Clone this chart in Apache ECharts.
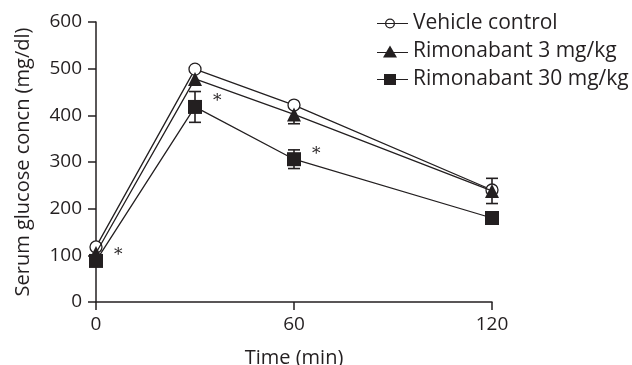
<!DOCTYPE html>
<html>
<head>
<meta charset="utf-8">
<script src="https://cdn.jsdelivr.net/npm/echarts@6/dist/echarts.min.js"></script>
<style>html,body{margin:0;padding:0;background:#fff}#c{width:632px;height:365px}</style>
</head>
<body>
<div id="c"></div>
<script>
var timePoints = [0, 30, 60, 120];
var xTicks = [0, 60, 120];
var yTicks = [0, 100, 200, 300, 400, 500, 600];
var seriesNames = ['Vehicle control', 'Rimonabant 3 mg/kg', 'Rimonabant 30 mg/kg'];
var vehicle = [118, 499, 422, 240];
var rim3 = [105, 478, 402, 238];
var rim30 = [88, 418, 306, 180];
var vehicleErr = [0, 0, 0, 0];
var rim3Err = [0, 0, 20, 27];
var rim30Err = [0, 33, 20, 0];
var rim30Sig = [true, true, true, false];

var FONT = 'Open Sans';
var INK = '#231f20';
var FS = 19;
var NFS = 20;

var legendIcons = [
  'path://M8,6A5,5 0 1,1 18,6A5,5 0 1,1 8,6ZM9.3,6A3.7,3.7 0 1,0 16.7,6A3.7,3.7 0 1,0 9.3,6ZM0,5.4H31V6.6H0Z',
  'path://M13,0L20,12H6ZM0,0H0.01V0.01H0ZM0,6.4H31V7.6H0Z',
  'path://M7,0.5H19V11.5H7ZM0,5.4H31V6.6H0Z'
];

function pairs(vals) { return timePoints.map(function (t, i) { return [t, vals[i]]; }); }
function errData(vals, errs) {
  var out = [];
  timePoints.forEach(function (t, i) { if (errs[i] > 0) out.push([t, vals[i] - errs[i], vals[i] + errs[i]]); });
  return out;
}
function errSeries(vals, errs, z) {
  return {
    type: 'custom', z: z, silent: true,
    data: errData(vals, errs),
    renderItem: function (params, api) {
      var lo = api.coord([api.value(0), api.value(1)]);
      var hi = api.coord([api.value(0), api.value(2)]);
      var w = 6;
      var st = { stroke: INK, lineWidth: 1.6 };
      return { type: 'group', children: [
        { type: 'line', shape: { x1: lo[0], y1: lo[1], x2: hi[0], y2: hi[1] }, style: st },
        { type: 'line', shape: { x1: lo[0] - w, y1: lo[1], x2: lo[0] + w, y2: lo[1] }, style: st },
        { type: 'line', shape: { x1: hi[0] - w, y1: hi[1], x2: hi[0] + w, y2: hi[1] }, style: st }
      ] };
    }
  };
}

var chart = echarts.init(document.getElementById('c'), null, { renderer: 'canvas' });
var lineStyle = { color: INK, width: 1.3 };
chart.setOption({
  animation: false,
  textStyle: { fontFamily: FONT, color: INK },
  grid: { left: 96, right: 140, top: 22, bottom: 63, containLabel: false, outerBoundsMode: 'none' },
  legend: {
    left: 377, top: 13, orient: 'vertical', itemGap: 7, padding: 0,
    itemWidth: 31, itemHeight: 12, symbolKeepAspect: true,
    textStyle: { fontFamily: FONT, fontSize: 21, lineHeight: 20, color: INK },
    data: seriesNames.map(function (n, i) {
      return { name: n, icon: legendIcons[i], itemStyle: { color: INK, borderWidth: 0 } };
    })
  },
  xAxis: {
    type: 'value', min: 0, max: 120, interval: 60,
    name: 'Time (min)', nameLocation: 'middle', nameGap: 46,
    nameTextStyle: { fontFamily: FONT, fontSize: NFS, color: INK },
    axisLine: { show: true, onZero: false, lineStyle: { color: INK, width: 1.5 } },
    axisTick: { show: true, length: 8, lineStyle: { color: INK, width: 1.5 } },
    axisLabel: { fontFamily: FONT, fontSize: FS, color: INK, margin: 13,
      formatter: function (v) { return xTicks.indexOf(v) >= 0 ? String(v) : ''; } },
    splitLine: { show: false }
  },
  yAxis: {
    type: 'value', min: 0, max: 600, interval: 100,
    name: 'Serum glucose concn (mg/dl)', nameLocation: 'middle', nameGap: 63,
    nameTextStyle: { fontFamily: FONT, fontSize: NFS, color: INK },
    axisLine: { show: true, lineStyle: { color: INK, width: 1.5 } },
    axisTick: { show: true, length: 8, lineStyle: { color: INK, width: 1.5 } },
    axisLabel: { fontFamily: FONT, fontSize: FS, color: INK, margin: 14,
      formatter: function (v) { return yTicks.indexOf(v) >= 0 ? String(v) : ''; } },
    splitLine: { show: false }
  },
  series: [
    errSeries(vehicle, vehicleErr, 2),
    errSeries(rim3, rim3Err, 2),
    errSeries(rim30, rim30Err, 2),
    {
      name: seriesNames[0], type: 'line', z: 3, data: pairs(vehicle),
      symbol: 'circle', symbolSize: 12, showAllSymbol: true,
      lineStyle: lineStyle,
      itemStyle: { color: '#fff', borderColor: INK, borderWidth: 1.3 }
    },
    {
      name: seriesNames[1], type: 'line', z: 4, data: pairs(rim3),
      symbol: 'triangle', symbolSize: 14,
      lineStyle: lineStyle,
      itemStyle: { color: INK, borderColor: INK, borderWidth: 0 }
    },
    {
      name: seriesNames[2], type: 'line', z: 5,
      data: timePoints.map(function (t, i) {
        return { value: [t, rim30[i]], label: { show: rim30Sig[i] } };
      }),
      symbol: 'rect', symbolSize: 14,
      lineStyle: lineStyle,
      itemStyle: { color: INK, borderColor: INK, borderWidth: 0 },
      label: { show: false, position: 'right', formatter: '*', distance: 5, offset: [6, -5],
        fontFamily: 'DejaVu Serif', fontSize: 17, color: INK }
    }
  ]
});
</script>
</body>
</html>
